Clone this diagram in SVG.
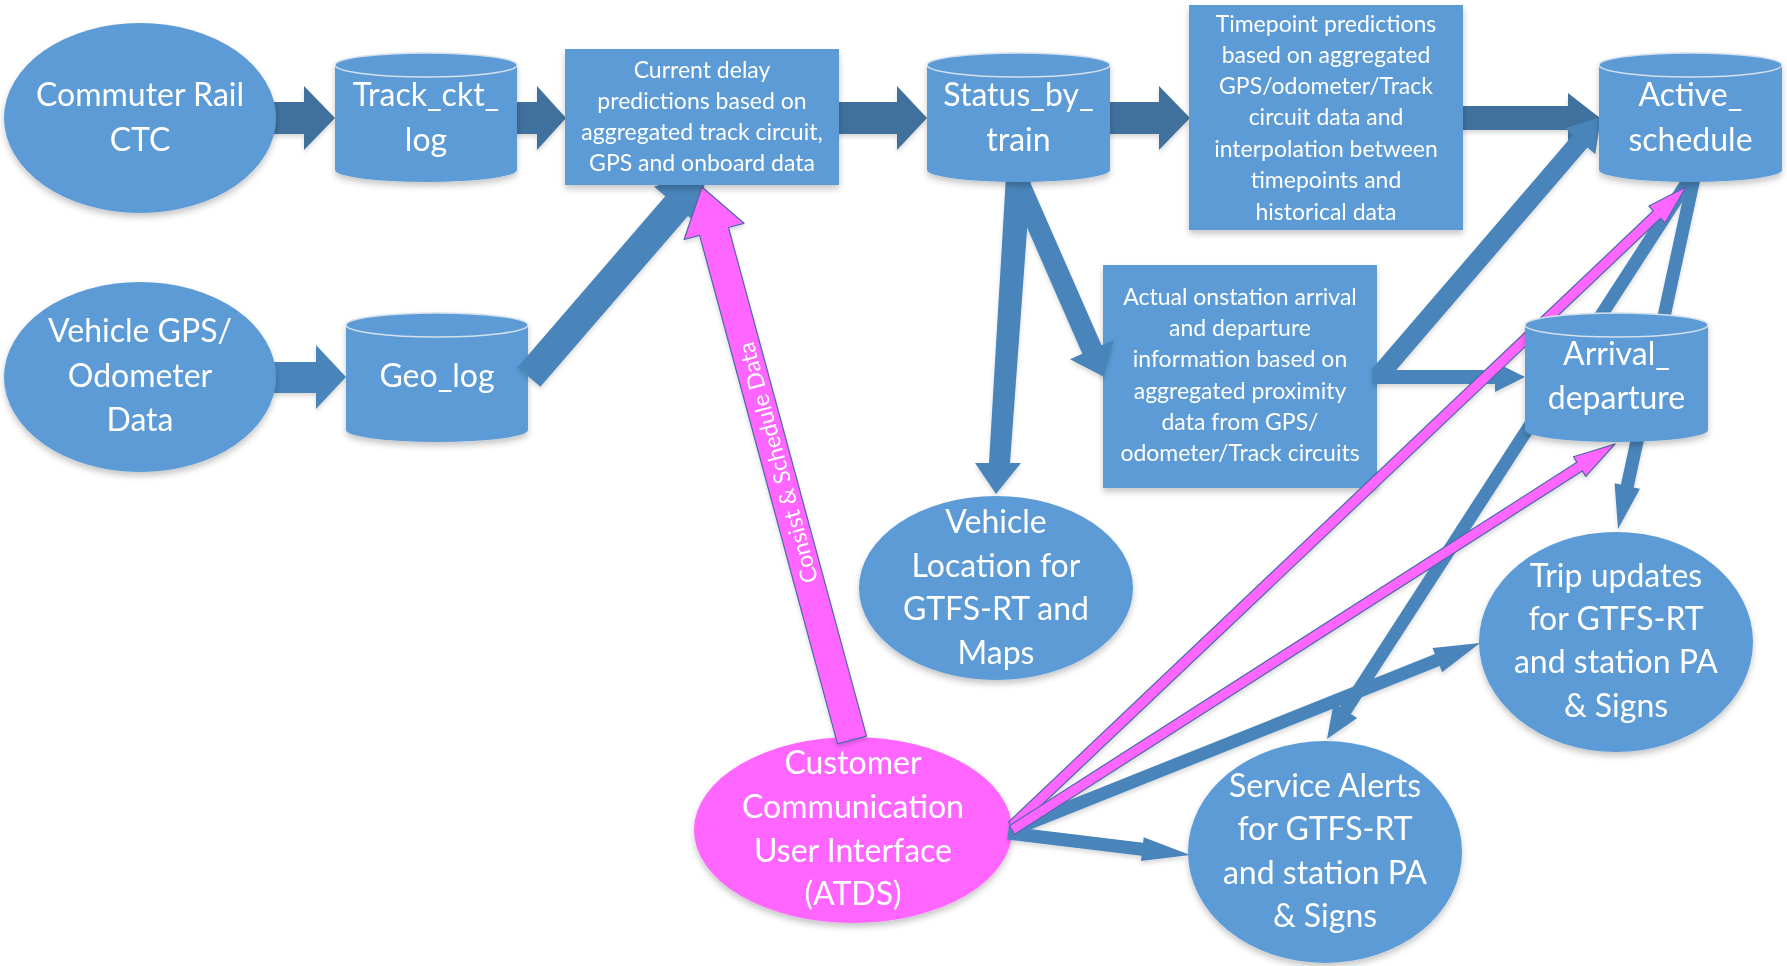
<svg xmlns="http://www.w3.org/2000/svg" width="1787" height="966" viewBox="0 0 1787 966">
<defs>
<filter id="sh" x="-10%" y="-10%" width="120%" height="130%">
<feDropShadow dx="0" dy="4" stdDeviation="3" flood-color="#000" flood-opacity="0.22"/>
</filter>
<filter id="ash" x="-10%" y="-10%" width="120%" height="120%">
<feDropShadow dx="0" dy="3" stdDeviation="2" flood-color="#000" flood-opacity="0.15"/>
</filter>
<style>
.n{fill:#5B9BD5}
.cap{fill:#5B9BD5;stroke:#D3E0EE;stroke-width:1.5}
.m{fill:#FF66FF}
.big{font-family:Lato,"Open Sans",sans-serif;font-size:32px;fill:#fff;text-anchor:middle}
.sm{font-family:Lato,"Open Sans",sans-serif;font-size:23px;fill:#fff;text-anchor:middle}
.lbl{font-family:Lato,"Open Sans",sans-serif;font-size:23px;fill:#fff;text-anchor:middle;dominant-baseline:central}
.dk{fill:#41719C}
.md{fill:#4A85BB}
.mg{fill:#FF66FF;stroke:#4F68A8;stroke-width:1.2;stroke-linejoin:round}
</style>
</defs>
<rect width="1787" height="966" fill="#fff"/>

<g id="geo_log" filter="url(#sh)">
<path class="n" d="M346,325 L346,430 A91,12 0 0 0 528,430 L528,325 Z"/>
<ellipse class="cap" cx="437" cy="325" rx="91" ry="12"/>
<text class="big" x="437" y="387">Geo_log</text>
</g>

<g id="actual_onstation" filter="url(#sh)">
<rect class="n" x="1103" y="265" width="274" height="223"/>
<text class="sm" x="1240" y="305">Actual onstation arrival</text>
<text class="sm" x="1240" y="336">and departure</text>
<text class="sm" x="1240" y="367">information based on</text>
<text class="sm" x="1240" y="399">aggregated proximity</text>
<text class="sm" x="1240" y="430">data from GPS/</text>
<text class="sm" x="1240" y="461">odometer/Track circuits</text>
</g>

<g id="ccui" filter="url(#sh)">
<ellipse class="m" cx="853" cy="830" rx="159" ry="93"/>
<text class="big" x="853" y="774">Customer</text>
<text class="big" x="853" y="818">Communication</text>
<text class="big" x="853" y="862">User Interface</text>
<text class="big" x="853" y="905">(ATDS)</text>
</g>

<g id="connectors" filter="url(#ash)">
<polygon class="dk" points="270,102 304,102 304,86 335,118 304,150 304,134 270,134"/>
<polygon class="dk" points="512,102 537,102 537,86 566,118 537,150 537,134 512,134"/>
<polygon class="dk" points="835,102 897,102 897,86 927,118 897,150 897,134 835,134"/>
<polygon class="dk" points="1105,102 1159,102 1159,86 1190,118 1159,150 1159,134 1105,134"/>
<polygon class="dk" points="1460,106 1568,106 1568,93 1600,118 1568,143 1568,130 1460,130"/>
<polygon class="md" points="272,362 316,362 316,345 346,377 316,409 316,393 272,393"/>
<polygon class="md" points="540.4,386.8 688,215.9 699.3,225.7 706,172 653.9,186.5 665.2,196.3 517.6,367.2"/>
<polygon class="md" points="1006,176 1031,176 1010,463 1021,463 996,494 975,463 989,463"/>
<polygon class="md" points="1006.2,179.9 1082.3,353.7 1070,359.2 1104,377 1113.9,339.9 1101.6,345.3 1025.4,171.5"/>
<polygon class="md" points="1385.7,382.2 1587.4,147.5 1595.3,154.3 1601,117 1565,128.2 1572.9,135.1 1371.3,369.8"/>
<polygon class="md" points="1372,370 1495,370 1495,362 1525,377 1495,392 1495,384 1372,384"/>
<polygon class="md" points="1684.5,174.5 1340,706.9 1333.7,702.8 1327,739 1357.2,718.1 1350.9,714 1695.5,181.5"/>
<polygon class="md" points="1687.6,176.6 1620.9,484.6 1614.6,483.2 1618,529 1640,488.8 1633.7,487.4 1700.4,179.4"/>
<polygon class="md" points="1007.2,839.5 1141.5,855.7 1140.9,861.1 1190,855 1143.7,837.3 1143.1,842.7 1008.8,826.5"/>
<polygon class="md" points="1014.4,836 1439.7,666.1 1442.1,672.2 1480,643 1432.5,648 1434.9,654.1 1009.6,824"/>
<polygon class="mg" points="1015.6,829.8 1660.6,218.3 1665,223 1686,187 1648.9,206 1653.4,210.8 1008.4,822.2"/>
<polygon class="mg" points="1014.7,834.3 1582.3,470.9 1585.8,476.4 1615,444 1573.4,456.8 1576.9,462.3 1009.3,825.7"/>
<polygon class="mg" points="866.5,736.1 728.5,227.5 744,223.3 702,187 684.1,239.5 699.6,235.3 837.5,743.9"/>
<text class="lbl" transform="translate(777,463) rotate(-105.18)">Consist &amp; Schedule Data</text>
</g>

<g id="commuter_rail_ctc" filter="url(#sh)">
<ellipse class="n" cx="140" cy="118" rx="136" ry="95"/>
<text class="big" x="140" y="106">Commuter Rail</text>
<text class="big" x="140" y="151">CTC</text>
</g>

<g id="track_ckt_log" filter="url(#sh)">
<path class="n" d="M335,65 L335,170 A91,12 0 0 0 517,170 L517,65 Z"/>
<ellipse class="cap" cx="426" cy="65" rx="91" ry="12"/>
<text class="big" x="426" y="106">Track_ckt_</text>
<text class="big" x="426" y="151">log</text>
</g>

<g id="current_delay" filter="url(#sh)">
<rect class="n" x="565" y="49" width="274" height="136"/>
<text class="sm" x="702" y="78">Current delay</text>
<text class="sm" x="702" y="109">predictions based on</text>
<text class="sm" x="702" y="140">aggregated track circuit,</text>
<text class="sm" x="702" y="171">GPS and onboard data</text>
</g>

<g id="status_by_train" filter="url(#sh)">
<path class="n" d="M927,65 L927,170 A91.5,12 0 0 0 1110,170 L1110,65 Z"/>
<ellipse class="cap" cx="1018.5" cy="65" rx="91.5" ry="12"/>
<text class="big" x="1018.5" y="106">Status_by_</text>
<text class="big" x="1018.5" y="151">train</text>
</g>

<g id="timepoint" filter="url(#sh)">
<rect class="n" x="1189" y="5" width="274" height="225"/>
<text class="sm" x="1326" y="32">Timepoint predictions</text>
<text class="sm" x="1326" y="63">based on aggregated</text>
<text class="sm" x="1326" y="94">GPS/odometer/Track</text>
<text class="sm" x="1326" y="125">circuit data and</text>
<text class="sm" x="1326" y="157">interpolation between</text>
<text class="sm" x="1326" y="188">timepoints and</text>
<text class="sm" x="1326" y="220">historical data</text>
</g>

<g id="active_schedule" filter="url(#sh)">
<path class="n" d="M1599,65 L1599,170 A91.5,12 0 0 0 1782,170 L1782,65 Z"/>
<ellipse class="cap" cx="1690.5" cy="65" rx="91.5" ry="12"/>
<text class="big" x="1690.5" y="106">Active_</text>
<text class="big" x="1690.5" y="151">schedule</text>
</g>

<g id="vehicle_gps" filter="url(#sh)">
<ellipse class="n" cx="140" cy="377" rx="136" ry="95"/>
<text class="big" x="140" y="342">Vehicle GPS/</text>
<text class="big" x="140" y="387">Odometer</text>
<text class="big" x="140" y="431">Data</text>
</g>

<g id="arrival_departure" filter="url(#sh)">
<path class="n" d="M1525,325 L1525,430 A91.5,12 0 0 0 1708,430 L1708,325 Z"/>
<ellipse class="cap" cx="1616.5" cy="325" rx="91.5" ry="12"/>
<text class="big" x="1616.5" y="365">Arrival_</text>
<text class="big" x="1616.5" y="409">departure</text>
</g>

<g id="vehicle_location" filter="url(#sh)">
<ellipse class="n" cx="996" cy="588" rx="137" ry="92"/>
<text class="big" x="996" y="533">Vehicle</text>
<text class="big" x="996" y="577">Location for</text>
<text class="big" x="996" y="620">GTFS-RT and</text>
<text class="big" x="996" y="664">Maps</text>
</g>

<g id="trip_updates" filter="url(#sh)">
<ellipse class="n" cx="1616" cy="642" rx="137" ry="110"/>
<text class="big" x="1616" y="587">Trip updates</text>
<text class="big" x="1616" y="630">for GTFS-RT</text>
<text class="big" x="1616" y="673">and station PA</text>
<text class="big" x="1616" y="717">&amp; Signs</text>
</g>

<g id="service_alerts" filter="url(#sh)">
<ellipse class="n" cx="1325" cy="852" rx="137" ry="111"/>
<text class="big" x="1325" y="797">Service Alerts</text>
<text class="big" x="1325" y="840">for GTFS-RT</text>
<text class="big" x="1325" y="884">and station PA</text>
<text class="big" x="1325" y="927">&amp; Signs</text>
</g>
</svg>
